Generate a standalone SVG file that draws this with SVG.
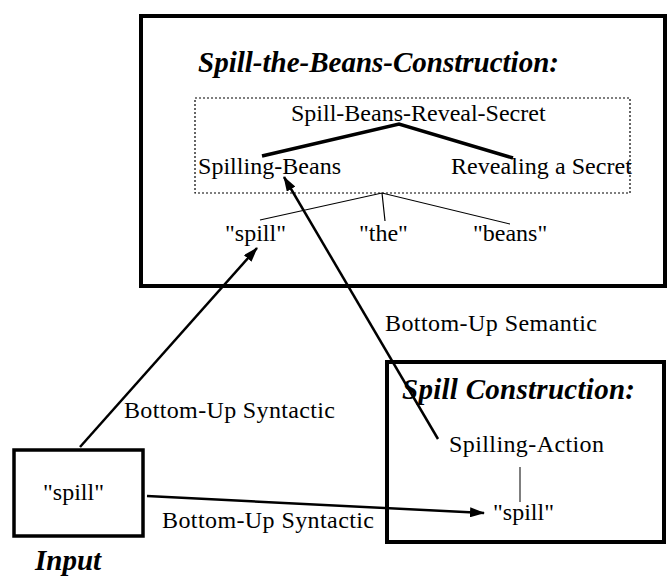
<svg xmlns="http://www.w3.org/2000/svg" width="668" height="577" viewBox="0 0 668 577">
<style>
.t{font-family:"Liberation Serif","Times New Roman",serif;font-size:24px;fill:#000}
.h{font-family:"Liberation Serif","Times New Roman",serif;font-size:29px;font-weight:bold;font-style:italic;fill:#000}
.box{fill:none;stroke:#000;stroke-width:4}
.thin{stroke:#000;stroke-width:1.2;fill:none}
.thick{stroke:#000;stroke-width:3.5;fill:none}
.arr{stroke:#000;stroke-width:2.5;fill:none;marker-end:url(#ah)}
</style>
<defs>
<marker id="ah" markerUnits="userSpaceOnUse" markerWidth="16" markerHeight="10" refX="14" refY="5" orient="auto">
<path d="M0,0 L15,5 L0,10 Z" fill="#000"/>
</marker>
</defs>
<rect width="668" height="577" fill="#fff"/>
<g id="spill-the-beans">
<rect class="box" x="141" y="16" width="524" height="270"/>
<text class="h" x="198" y="72">Spill-the-Beans-Construction:</text>
<rect x="195" y="98" width="435" height="95" fill="none" stroke="#000" stroke-width="1.2" stroke-dasharray="2,2"/>
<text class="t" x="291" y="121">Spill-Beans-Reveal-Secret</text>
<text class="t" x="198" y="174" textLength="143">Spilling-Beans</text>
<text class="t" x="451" y="174" textLength="181">Revealing a Secret</text>
<text class="t" x="225" y="241">"spill"</text>
<text class="t" x="359" y="241">"the"</text>
<text class="t" x="473" y="241">"beans"</text>
<path class="thick" d="M262,156 L399,124 L513,158"/>
<path class="thin" d="M260,220 L382,193 L510,224 M382,193 L385,221"/>
</g>
<g id="spill-construction">
<rect class="box" x="387" y="362" width="277" height="180"/>
<text class="h" x="402" y="399" textLength="233">Spill Construction:</text>
<text class="t" x="449" y="452" textLength="155">Spilling-Action</text>
<line x1="520" y1="467" x2="520" y2="502" stroke="#555" stroke-width="1.5"/>
<text class="t" x="493" y="520">"spill"</text>
</g>
<g id="input">
<rect x="14" y="450" width="129" height="86" fill="none" stroke="#000" stroke-width="3.5"/>
<text class="t" x="43" y="500">"spill"</text>
<text class="h" x="35" y="570">Input</text>
</g>
<g id="connectors">
<line class="arr" x1="80" y1="447" x2="257" y2="248"/>
<line class="arr" x1="438" y1="439" x2="284" y2="177"/>
<line class="arr" x1="147" y1="496" x2="484" y2="513"/>
<text class="t" x="124" y="418" textLength="211">Bottom-Up Syntactic</text>
<text class="t" x="162" y="528" textLength="212">Bottom-Up Syntactic</text>
<text class="t" x="385" y="331" textLength="212">Bottom-Up Semantic</text>
</g>
</svg>
